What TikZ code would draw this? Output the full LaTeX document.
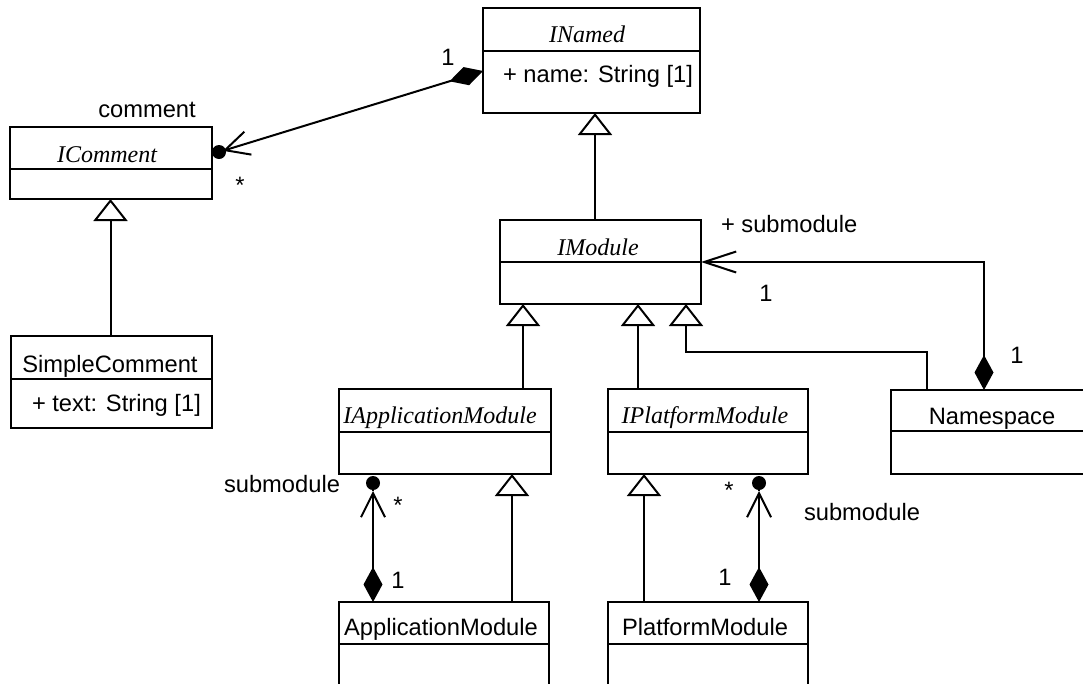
\documentclass[tikz,border=0pt]{standalone}
\usepackage{fontspec}
\setmainfont{Liberation Sans}
\newfontfamily\clsfont{Liberation Serif}
\usetikzlibrary{arrows.meta,calc}
\newcommand\UMLbox[6]{%
  \node[cls, minimum width={(#4-#2)*1pt}, minimum height={(#5-#3)*1pt}] (#1) at (#2,#3) {};
  \draw (#2,#6) -- (#4,#6);}
\begin{document}
\begin{tikzpicture}[x=1pt,y=-1pt, line width=2pt,
  cls/.style={draw, rectangle, anchor=north west, inner sep=0pt, outer sep=0pt},
  lbl/.style={font=\fontsize{23.7}{28}\selectfont, inner sep=0pt, anchor=base},
  ttl/.style={font=\clsfont\itshape\fontsize{24}{28}\selectfont, inner sep=0pt, anchor=base},
  gen/.style={-{Triangle[length=22pt,width=34pt,fill=white]}},
  comp/.style={{Diamond[length=35pt,width=19pt]}-{Straight Barb[length=24pt,width=24pt]}},
  compns/.style={{Diamond[length=35pt,width=19pt]}-{Straight Barb[length=32pt,width=21pt]}},
]
\useasboundingbox (0,0) rectangle (1083,683);
\clip (0,0) rectangle (1083,683);
\fill[white] (0,0) rectangle (1083,683);

% classes
\UMLbox{inamed}{483}{8}{700}{113}{51}
\UMLbox{icomment}{10}{127}{212}{199}{169}
\UMLbox{simplecomment}{11}{336}{212}{428}{379}
\UMLbox{imodule}{500}{220}{701}{304}{262}
\UMLbox{iappmod}{339}{389}{551}{474}{432}
\UMLbox{iplatmod}{608}{389}{808}{474}{432}
\UMLbox{namespace}{891}{390}{1095}{474}{431}
\UMLbox{appmod}{339}{602}{549}{700}{644}
\UMLbox{platmod}{608}{602}{808}{700}{644}

% texts in classes
\node[ttl] (t-inamed) at (587,42) {INamed};
\node[lbl, anchor=base west] (a-inamed) at (502,82) {+ name: String [1]};
\node[ttl] (t-icomment) at (107,162) {IComment};
\node[lbl] (t-simple) at (110,372) {SimpleComment};
\node[lbl, anchor=base west] (a-simple) at (31,411) {+ text: String [1]};
\node[ttl] (t-imodule) at (598,255) {IModule};
\node[ttl] (t-iapp) at (440,423) {IApplicationModule};
\node[ttl] (t-iplat) at (705,423) {IPlatformModule};
\node[lbl] (t-ns) at (992,424) {Namespace};
\node[lbl] (t-app) at (441,635) {ApplicationModule};
\node[lbl] (t-plat) at (705,635) {PlatformModule};

% generalizations
\draw[gen] ([xshift=95pt]imodule.north west) -- ([xshift=95pt]imodule.north west |- inamed.south);
\draw[gen] ([xshift=99.5pt]simplecomment.north west) -- ([xshift=99.5pt]simplecomment.north west |- icomment.south);
\draw[gen] ([xshift=184pt]iappmod.north west) -- ([xshift=184pt]iappmod.north west |- imodule.south);
\draw[gen] ([xshift=30pt]iplatmod.north west) -- ([xshift=30pt]iplatmod.north west |- imodule.south);
\draw[gen] ([xshift=36pt]namespace.north west) -- ++(0,-38) -| ([xshift=186pt]imodule.south west);
\draw[gen] ([xshift=173pt]appmod.north west) -- ([xshift=173pt]appmod.north west |- iappmod.south);
\draw[gen] ([xshift=36pt]platmod.north west) -- ([xshift=36pt]platmod.north west |- iplatmod.south);

% compositions
\coordinate (c1) at ([yshift=-63pt]inamed.north west);
\coordinate (d1) at ([xshift=7pt,yshift=-25pt]icomment.north east);
\coordinate (b1) at ($(d1)!4pt!(c1)$);
\draw[comp] (c1) -- (b1);
\draw (b1) -- (d1);
\fill (d1) circle[radius=7pt];

\coordinate (d2) at ([xshift=34pt,yshift=-9pt]iappmod.south west);
\draw[comp] ([xshift=34pt]appmod.north west) -- ([yshift=-8pt]d2);
\draw (d2) -- ([yshift=-8pt]d2);
\fill (d2) circle[radius=7pt];

\coordinate (d3) at ([xshift=151pt,yshift=-9pt]iplatmod.south west);
\draw[comp] ([xshift=151pt]platmod.north west) -- ([yshift=-8pt]d3);
\draw (d3) -- ([yshift=-8pt]d3);
\fill (d3) circle[radius=7pt];

\draw[compns] ([xshift=93pt]namespace.north west) |- ([yshift=-42pt]imodule.north east);

% association end labels
\node[lbl] (m1) at (448,65) {1};
\node[lbl] (r1) at (147,117) {comment};
\node[lbl] (s1) at (240,193.6) {*};
\node[lbl, anchor=base west] (r2) at (720,232) {+ submodule};
\node[lbl] (m2) at (766,301) {1};
\node[lbl] (m3) at (1017,363) {1};
\node[lbl] (r3) at (282,492) {submodule};
\node[lbl] (s2) at (398,513.6) {*};
\node[lbl] (m4) at (398,588) {1};
\node[lbl] (s3) at (729,498.6) {*};
\node[lbl] (r4) at (862,520) {submodule};
\node[lbl] (m5) at (725,585) {1};
\end{tikzpicture}
\end{document}
